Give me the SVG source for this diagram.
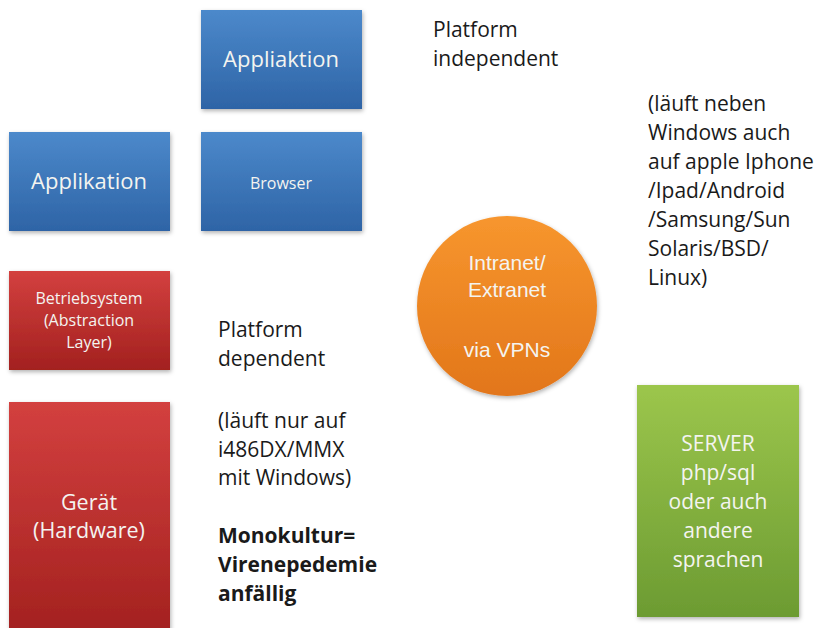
<svg xmlns="http://www.w3.org/2000/svg" width="817" height="628" viewBox="0 0 817 628">
<defs>
<linearGradient id="gBlue" x1="0" y1="0" x2="0" y2="1"><stop offset="0" stop-color="#4c89cb"/><stop offset="1" stop-color="#2e64a6"/></linearGradient>
<linearGradient id="gRed" x1="0" y1="0" x2="0" y2="1"><stop offset="0" stop-color="#d3403f"/><stop offset="1" stop-color="#a3211f"/></linearGradient>
<linearGradient id="gGreen" x1="0" y1="0" x2="0" y2="1"><stop offset="0" stop-color="#9cc64c"/><stop offset="1" stop-color="#6c9b32"/></linearGradient>
<linearGradient id="gOrange" x1="0" y1="0" x2="0" y2="1"><stop offset="0" stop-color="#f7962e"/><stop offset="1" stop-color="#e2761a"/></linearGradient>
<filter id="sh" x="-10%" y="-10%" width="125%" height="125%"><feDropShadow dx="1" dy="2" stdDeviation="2" flood-color="#000" flood-opacity="0.3"/></filter>
<style>
text{font-family:"Open Sans","Liberation Sans",sans-serif}
.w{fill:#f4f4f0;text-anchor:middle}
.b{fill:#1a1a1a;font-size:21px}
.bold{font-weight:bold}
.lib{font-family:"Liberation Sans",Arial,sans-serif}
</style>
</defs>
<rect width="817" height="628" fill="#fff"/>
<g id="connectors"/>
<g id="appliaktion"><rect x="201" y="10" width="161" height="99" fill="url(#gBlue)" filter="url(#sh)"/><text class="w" x="281" y="67" font-size="22">Appliaktion</text></g>
<g id="applikation"><rect x="9" y="132" width="161" height="99" fill="url(#gBlue)" filter="url(#sh)"/><text class="w" x="89" y="189" font-size="22">Applikation</text></g>
<g id="browser"><rect x="201" y="132" width="161" height="99" fill="url(#gBlue)" filter="url(#sh)"/><text class="w" x="281" y="189" font-size="16">Browser</text></g>
<g id="betriebsystem"><rect x="9" y="271" width="161" height="99" fill="url(#gRed)" filter="url(#sh)"/><text class="w" font-size="16"><tspan x="89" y="304">Betriebsystem</tspan><tspan x="89" y="326">(Abstraction</tspan><tspan x="89" y="348">Layer)</tspan></text></g>
<g id="geraet"><rect x="9" y="402" width="161" height="232" fill="url(#gRed)" filter="url(#sh)"/><text class="w" font-size="21.5"><tspan x="89" y="510">Gerät</tspan><tspan x="89" y="538">(Hardware)</tspan></text></g>
<g id="intranet"><circle cx="507" cy="306" r="90" fill="url(#gOrange)" filter="url(#sh)"/><text class="w lib" font-size="21"><tspan x="507" y="270">Intranet/</tspan><tspan x="507" y="297">Extranet</tspan><tspan x="507" y="357">via VPNs</tspan></text></g>
<g id="server"><rect x="637" y="385" width="162" height="232" fill="url(#gGreen)" filter="url(#sh)"/><text class="w" font-size="21"><tspan x="718" y="451">SERVER</tspan><tspan x="718" y="480">php/sql</tspan><tspan x="718" y="509">oder auch</tspan><tspan x="718" y="538">andere</tspan><tspan x="718" y="567">sprachen</tspan></text></g>
<g id="label-independent"><text class="b"><tspan x="433" y="37">Platform</tspan><tspan x="433" y="66">independent</tspan></text></g>
<g id="label-platforms"><text class="b"><tspan x="648" y="111">(läuft neben</tspan><tspan x="648" y="140">Windows auch</tspan><tspan x="648" y="169">auf apple Iphone</tspan><tspan x="648" y="198">/Ipad/Android</tspan><tspan x="648" y="227">/Samsung/Sun</tspan><tspan x="648" y="256">Solaris/BSD/</tspan><tspan x="648" y="285">Linux)</tspan></text></g>
<g id="label-dependent"><text class="b"><tspan x="218" y="337">Platform</tspan><tspan x="218" y="366">dependent</tspan></text></g>
<g id="label-windows"><text class="b"><tspan x="218" y="428">(läuft nur auf</tspan><tspan x="218" y="457">i486DX/MMX</tspan><tspan x="218" y="485">mit Windows)</tspan></text></g>
<g id="label-monokultur"><text class="b bold"><tspan x="218" y="543">Monokultur=</tspan><tspan x="218" y="572">Virenepedemie</tspan><tspan x="218" y="601">anfällig</tspan></text></g>
</svg>
